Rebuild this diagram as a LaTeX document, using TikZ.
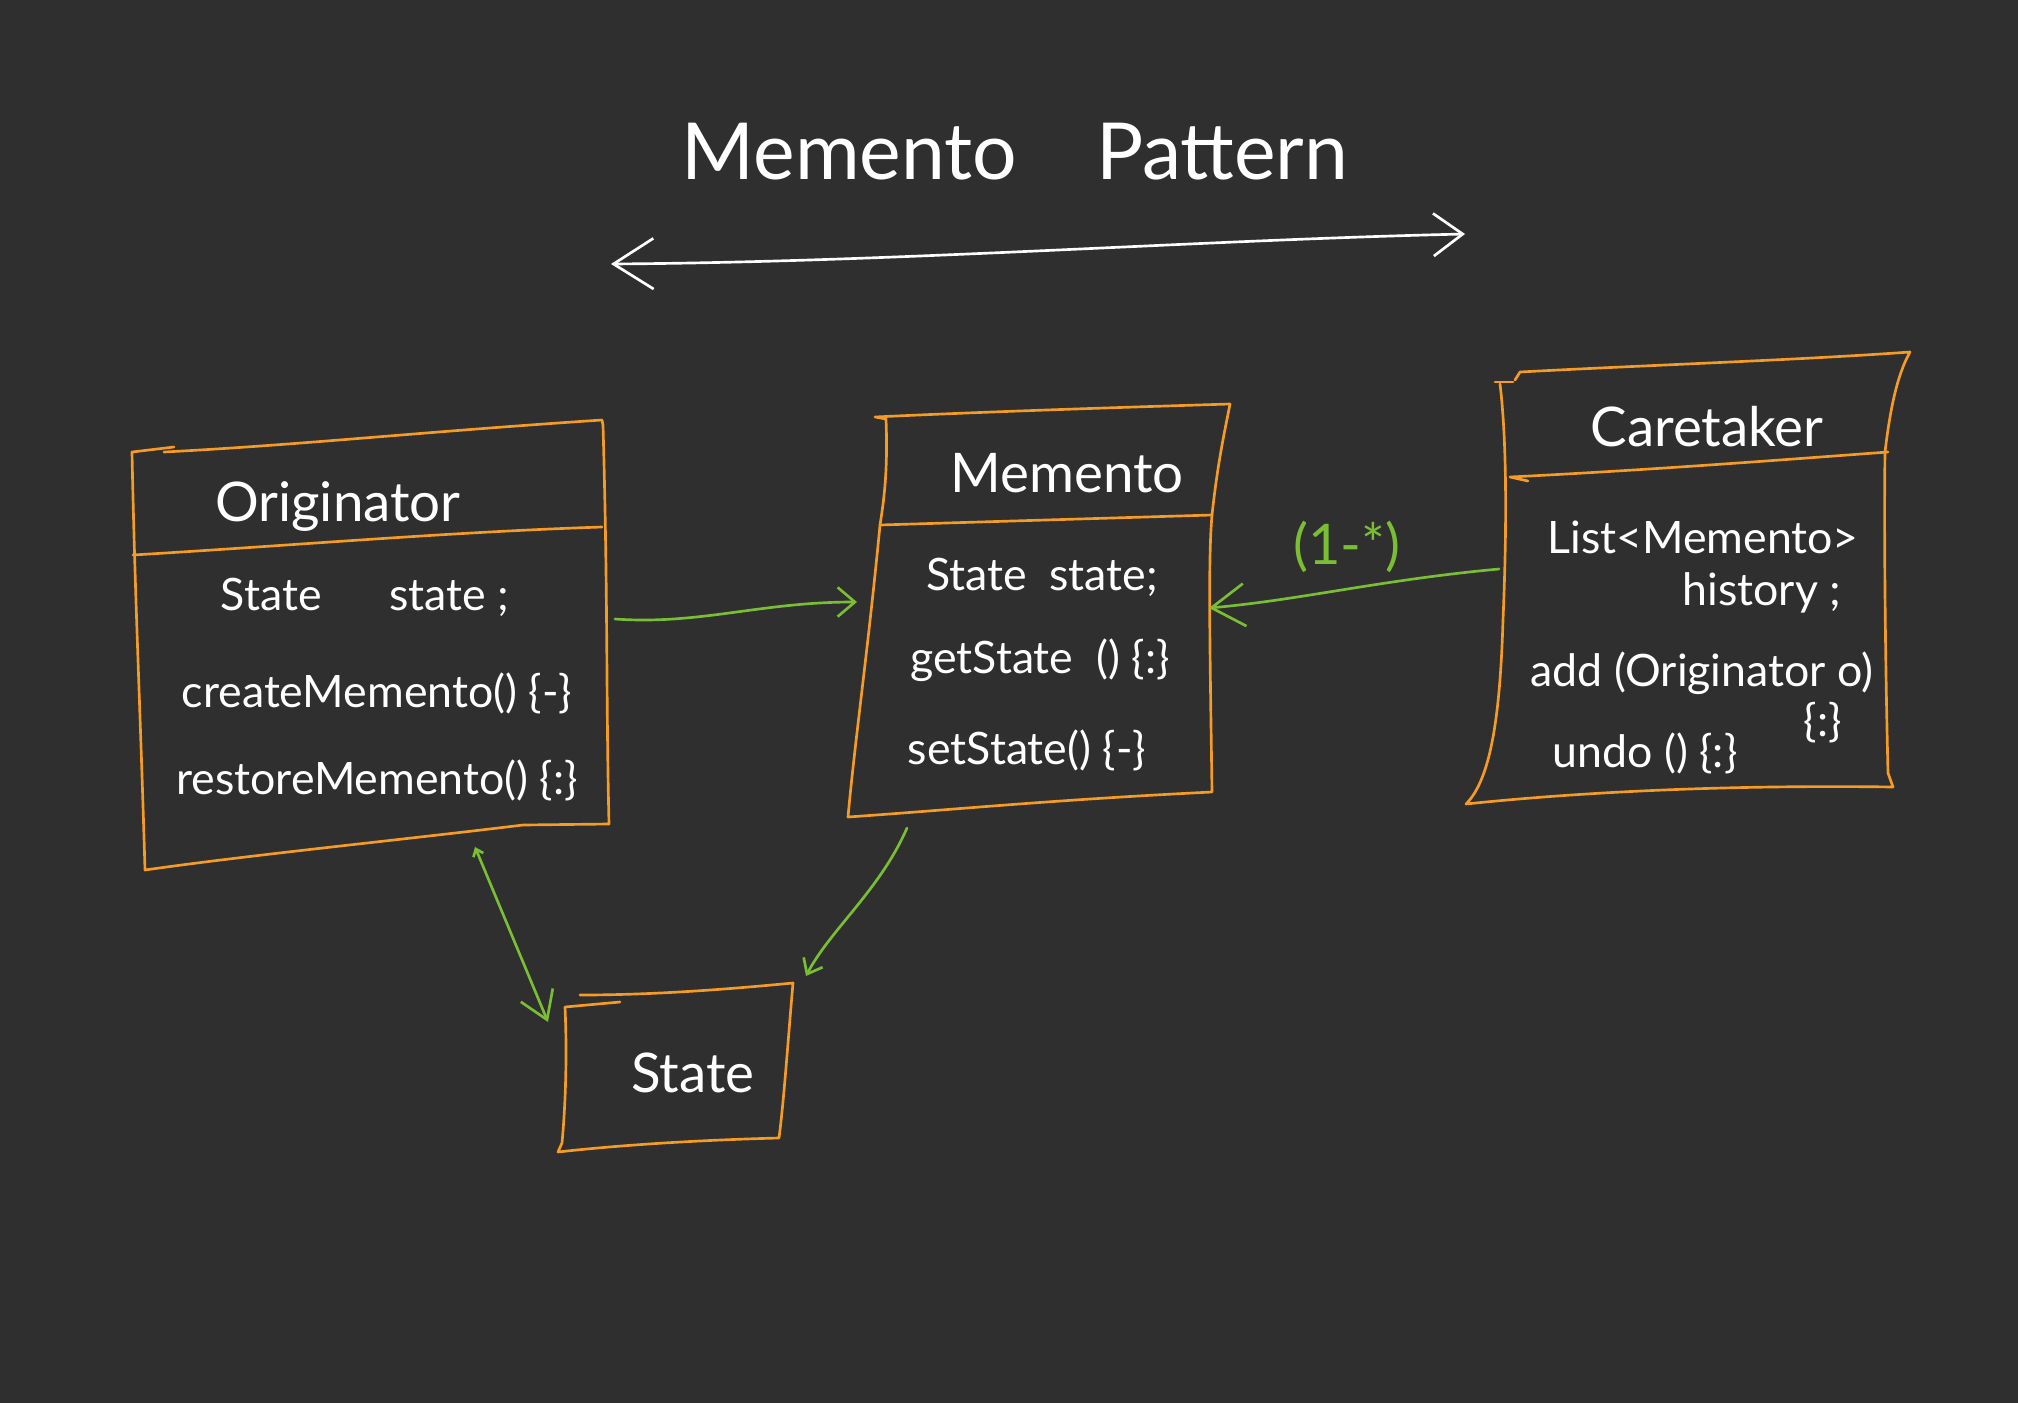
\documentclass[tikz,border=0pt]{standalone}
\usepackage{fontspec}
\setmainfont{Lato}
\usetikzlibrary{arrows.meta}

\definecolor{bgdark}{RGB}{47,47,47}
\definecolor{boxorange}{RGB}{245,156,38}
\definecolor{linkgreen}{RGB}{122,190,52}

\tikzset{
  boxline/.style={draw=boxorange, line width=2pt, line cap=round, line join=round},
  link/.style={draw=linkgreen, line width=2pt, line cap=round},
  bigtext/.style={text=white, inner sep=0.75pt, font=\fontsize{59}{66}\selectfont},
  headtext/.style={text=white, inner sep=0.75pt, font=\fontsize{41}{48}\selectfont},
  bodytext/.style={text=white, inner sep=0.75pt, font=\fontsize{33.5}{38}\selectfont},
  linktext/.style={text=linkgreen, inner sep=0.75pt, font=\fontsize{42}{48}\selectfont}
}

\begin{document}
\begin{tikzpicture}[x=0.75pt,y=0.75pt,yscale=-1,xscale=1]
%set diagram to 2018 x 1403
\path [fill=bgdark] (0,0) rectangle (2018,1403);

% Text Node
\draw (1015,152) node [bigtext] (title) {Memento\quad Pattern};
%Double arrow under the title
\coordinate (arrow-l) at (611,264);
\coordinate (arrow-r) at (1465,234);
\draw [white, line width=2pt, line cap=round, {Straight Barb[length=30pt,width=38pt]}-{Straight Barb[length=22pt,width=32pt]}] (arrow-l) .. controls (900,262) and (1200,240) .. (arrow-r);

%Shape: Originator box
\draw [boxline] (132,452) -- (174,447);
\draw [boxline] (164,452) .. controls (300,445) and (420,432) .. (602,420) -- (603,425) .. controls (608,600) and (606,700) .. (609,824) -- (523,825) .. controls (400,840) and (250,855) .. (145,870) .. controls (140,700) and (135,600) .. (132,452);
\draw [boxline] (133,555) .. controls (300,545) and (450,532) .. (602,527);
% Text Node
\draw (338,507) node [headtext] (orig-name) {Originator};
\draw (365,597) node [bodytext] (orig-state) {State\quad\ \ state ;};
\draw (377,693) node [bodytext] (orig-create) {createMemento() \{-\}};
\draw (377,780) node [bodytext] (orig-restore) {restoreMemento() \{:\}};

%Shape: Memento box
\draw [boxline] (875,417) -- (886,419) .. controls (888,470) and (884,500) .. (880,525) .. controls (868,650) and (855,740) .. (848,817) .. controls (950,810) and (1050,800) .. (1212,792) .. controls (1210,650) and (1208,560) .. (1212,515) .. controls (1218,460) and (1225,430) .. (1230,404) .. controls (1100,408) and (980,412) .. (875,417);
\draw [boxline] (880,525) -- (1212,515);
% Text Node
\draw (1067,473) node [headtext] (mem-name) {Memento};
\draw (1042,577) node [bodytext] (mem-state) {State\ \ state;};
\draw (1040,660) node [bodytext] (mem-get) {getState\ \ ()\ \{:\}};
\draw (1027,750) node [bodytext] (mem-set) {setState() \{-\}};

%Shape: Caretaker box
\draw [boxline] (1495,382) -- (1513,382);
\draw [boxline] (1500,384) .. controls (1508,450) and (1506,550) .. (1503,620) .. controls (1500,720) and (1490,780) .. (1466,804) .. controls (1600,790) and (1750,785) .. (1893,787) -- (1888,773) .. controls (1885,650) and (1884,520) .. (1885,452) .. controls (1890,410) and (1897,375) .. (1910,352) .. controls (1800,360) and (1650,365) .. (1520,372) -- (1515,380);
\draw [boxline] (1528,481) -- (1510,477) .. controls (1650,470) and (1780,460) .. (1888,452);
% Text Node
\draw (1707,427) node [headtext] (care-name) {Caretaker};
\draw (1703,537) node [bodytext] (care-list) {List<Memento>};
\draw (1762,593) node [bodytext] (care-hist) {history ;};
\draw (1702,673) node [bodytext] (care-add) {add (Originator o)};
\draw (1823,723) node [bodytext] (care-addbody) {\{:\}};
\draw (1645,753) node [bodytext] (care-undo) {undo () \{:\}};

%Shape: State box
\draw [boxline] (580,995) .. controls (650,995) and (720,990) .. (793,983) .. controls (788,1040) and (784,1100) .. (779,1138) .. controls (700,1140) and (620,1145) .. (558,1152) -- (562,1143) .. controls (566,1100) and (567,1050) .. (565,1007) -- (620,1002);
% Text Node
\draw (693,1073) node [headtext] (state-name) {State};

%Connection points
\coordinate (orig-e) at (615,619);
\coordinate (mem-w) at (857,602);
\coordinate (care-w) at (1499,569);
\coordinate (mem-e) at (1209,608);
\coordinate (orig-s) at (475,847);
\coordinate (state-nw) at (548,1022);
\coordinate (mem-s) at (907,828);
\coordinate (state-ne) at (806,976);

%Curve Lines
\draw [link, -{Straight Barb[length=13pt,width=22pt]}] (orig-e) .. controls (700,625) and (760,602) .. (mem-w);
\draw [link, -{Straight Barb[length=25pt,width=32pt]}] (care-w) .. controls (1380,580) and (1300,600) .. (mem-e);
\draw [link, {Straight Barb[length=5pt,width=8pt]}-{Straight Barb[length=20pt,width=26pt]}] (orig-s) -- (state-nw);
\draw [link, -{Straight Barb[length=10pt,width=16pt]}] (mem-s) .. controls (880,890) and (830,930) .. (state-ne);
% Text Node
\draw (1347,547) node [linktext] (mult) {(1-*)};

\end{tikzpicture}
\end{document}
